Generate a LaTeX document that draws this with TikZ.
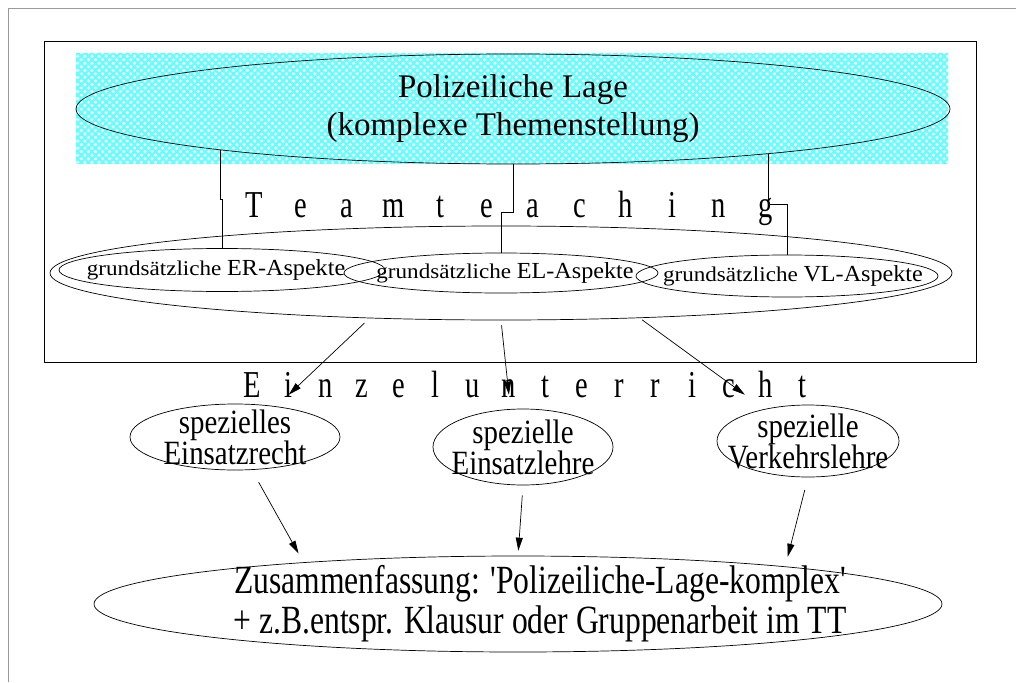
\documentclass[tikz,border=0pt]{standalone}
\usepackage{fontspec}
\setmainfont{Liberation Serif}
\usepackage{graphicx}
\usetikzlibrary{arrows.meta,shapes.geometric,patterns.meta,calc}
\definecolor{hatchcyan}{HTML}{66FFFF}
\definecolor{framegray}{HTML}{9A9A9A}
% horizontally squeezed (or stretched) text
\newcommand{\squash}[2]{\scalebox{#1}[1]{#2}}
\newcommand{\aspekt}[1]{{\fontsize{21}{23}\selectfont\squash{1.1}{grundsätzliche}} \squash{1.05}{#1-Aspekte}}
\tikzset{
ell/.style={draw,ellipse,inner sep=0pt,line width=.7pt},
aspekttxt/.style={font=\fontsize{23}{25}\selectfont,inner sep=0pt},
fach/.style={font=\fontsize{34}{31}\selectfont,align=center,inner sep=0pt},
letter/.style={font=\fontsize{38}{40}\selectfont,anchor=base,inner sep=0pt},
flow/.style={-{Triangle[length=13pt,width=7pt]},line width=.7pt},
hatch/.style={pattern={Lines[angle=#1,distance=5pt,line width=2.3pt]},pattern color=hatchcyan}}

\begin{document}
\begin{tikzpicture}[x=1pt,y=-1pt]
\useasboundingbox (0,0) rectangle (1016,682);
% page edge
\draw[framegray,line width=1pt] (1016,9) -- (8,9) -- (8,682);
% team teaching block
\draw[line width=1pt] (44,42) rectangle (976,362);
\fill[hatch=45] (76,54) rectangle (948,163);
\fill[hatch=-45] (76,54) rectangle (948,163);
\node[ell,minimum width=874pt,minimum height=110pt] (lage) at (513,109) {};
\node[font=\fontsize{33}{38}\selectfont,align=center,inner sep=0pt] (lagetxt) at (lage) {Polizeiliche Lage\\(komplexe Themenstellung)};
\foreach \ch [count=\i] in {T,e,a,m,t,e,a,c,h,i,n,g}
  \node[letter] (tt\i) at ({254+46.5*(\i-1)},217) {\squash{.75}{\ch}};
\node[ell,minimum width=902pt,minimum height=94pt] (team) at (501,273) {};
\node[ell,minimum width=326pt,minimum height=43pt] (er) at (222,270) {};
\node[ell,minimum width=314pt,minimum height=40pt] (el) at (501,273) {};
\node[ell,minimum width=302pt,minimum height=42pt] (vl) at (787,276) {};
\node[aspekttxt] (ertxt) at ($(er)+(-6,0)$) {\aspekt{ER}};
\node[aspekttxt] (eltxt) at ($(el)+(4,0)$) {\aspekt{EL}};
\node[aspekttxt] (vltxt) at ($(vl)+(6,0)$) {\aspekt{VL}};
\draw[line width=.7pt] (lage.188.4) -- ++(0,49) -| (er.north);
\draw[line width=.7pt] (lage.south) -- ++(0,48) -| (el.north);
\draw[line width=.7pt] (lage.-10.1) -- ++(0,50) -| (vl.north);
% single lessons
\foreach \ch [count=\i] in {E,i,n,z,e,l,u,n,t,e,r,r,i,c,h,t}
  \node[letter] (eu\i) at ({252+36.7*(\i-1)},397) {\squash{.75}{\ch}};
\draw[flow,shorten <=7pt] (team.-161) -- (eu2.mid);
\draw[flow,shorten <=5pt] (team.south) -- (eu8.mid);
\draw[flow,shorten <=3pt] (team.-18) -- ($(eu14.mid)!.43!(eu15.mid)$);
\node[ell,minimum width=210pt,minimum height=66pt] (ser) at (235,437) {};
\node[ell,minimum width=180pt,minimum height=76pt] (sel) at (523,447) {};
\node[ell,minimum width=182pt,minimum height=72pt] (svl) at (808,441) {};
\node[fach] (sertxt) at (ser) {\squash{.85}{spezielles}\\\squash{.85}{Einsatzrecht}};
\node[fach] (seltxt) at (sel) {\squash{.85}{spezielle}\\\squash{.85}{Einsatzlehre}};
\node[fach] (svltxt) at (svl) {\squash{.85}{spezielle}\\\squash{.85}{Verkehrslehre}};
% summary
\node[ell,minimum width=848pt,minimum height=96pt] (zus) at (518,604) {};
\node[font=\fontsize{40}{40}\selectfont,align=center,inner sep=0pt] (zustxt) at ($(zus)+(22,0)$) {\squash{.79}{Zusammenfassung: \textquotesingle Polizeiliche-Lage-komplex\textquotesingle}\\\squash{.79}{+ z.B.entspr. Klausur oder Gruppenarbeit im TT}};
\draw[flow,shorten <=14pt,shorten >=10pt] (ser.-63) -- (zus.169);
\draw[flow,shorten <=10pt,shorten >=5pt] (sel.south) -- (zus.north);
\draw[flow,shorten <=13pt,shorten >=10pt] (svl.south) -- (zus.8.7);
\end{tikzpicture}
\end{document}
